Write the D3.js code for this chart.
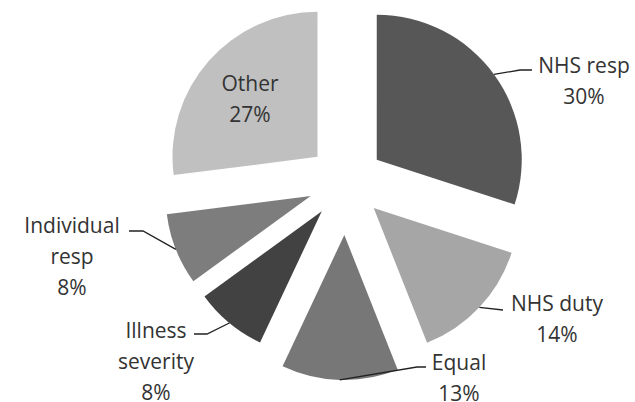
<!DOCTYPE html>
<html>
<head>
<meta charset="utf-8">
<script src="https://cdn.jsdelivr.net/npm/d3@7"></script>
<style>
  html, body { margin: 0; padding: 0; background: #ffffff; }
  svg { display: block; }
  text { font-family: "Open Sans", "DejaVu Sans", sans-serif; }
</style>
</head>
<body>
<svg id="chart" width="635" height="402"></svg>
<script>
// ---- data ----
const categories = ["NHS resp", "NHS duty", "Equal", "Illness severity", "Individual resp", "Other"];
const values = [30, 14, 13, 8, 8, 27];

// ---- style / layout ----
const colors = ["#575757", "#a6a6a6", "#777777", "#424242", "#7d7d7d", "#c0c0c0"];
const explode = [38, 38, 53, 38, 38, 38];
// label layout: text lines for the name, center x, first baseline, leader elbow & end
const labelLayout = [
  { lines: ["NHS resp"], x: 584, y: 73, leader: [[520, 70], [532, 70]] },
  { lines: ["NHS duty"], x: 557, y: 311, leader: [[503, 310]] },
  { lines: ["Equal"], x: 459, y: 370, leader: [[417, 367], [426, 367]] },
  { lines: ["Illness", "severity"], x: 156, y: 338, leader: [[207, 334], [194, 334]] },
  { lines: ["Individual", "resp"], x: 72, y: 233, leader: [[143, 231], [129, 231]] },
  { lines: ["Other"], x: 250, y: 91, leader: null }
];
const cx = 346, cy = 182, R = 145, lineH = 31;

const svg = d3.select("#chart");
const pie = d3.pie().sort(null).value(d => d)(values);
const arc = d3.arc().innerRadius(0).outerRadius(R);

const g = svg.append("g").attr("transform", `translate(${cx},${cy})`);

pie.forEach((p, i) => {
  const mid = (p.startAngle + p.endAngle) / 2;
  const ox = Math.sin(mid) * explode[i];
  const oy = -Math.cos(mid) * explode[i];
  g.append("path")
    .attr("d", arc(p))
    .attr("transform", `translate(${ox},${oy})`)
    .attr("fill", colors[i]);

  const L = labelLayout[i];
  if (L.leader) {
    const sx = cx + ox + Math.sin(mid) * R;
    const sy = cy + oy - Math.cos(mid) * R;
    const pts = [[sx, sy]].concat(L.leader);
    svg.append("path")
      .attr("d", d3.line()(pts))
      .attr("fill", "none")
      .attr("stroke", "#222222")
      .attr("stroke-width", 1.3);
  }
  const lines = L.lines.concat([values[i] + "%"]);
  const t = svg.append("text")
    .attr("text-anchor", "middle")
    .attr("font-size", 21)
    .attr("fill", "#333333");
  lines.forEach((s, k) => {
    t.append("tspan").attr("x", L.x).attr("y", L.y + k * lineH).text(s);
  });
});
</script>
</body>
</html>
